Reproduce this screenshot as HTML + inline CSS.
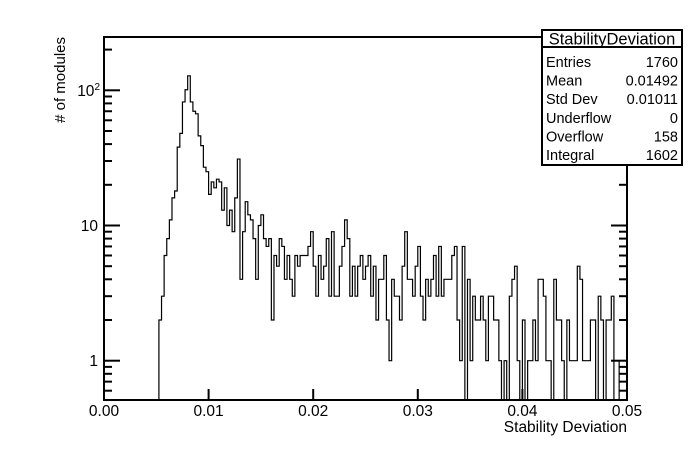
<!DOCTYPE html>
<html><head><meta charset="utf-8"><style>
html,body{margin:0;padding:0;background:#fff;}
svg{display:block;font-family:"Liberation Sans",sans-serif;}
</style></head><body>
<svg id="c" width="696" height="472" viewBox="0 0 696 472" xmlns="http://www.w3.org/2000/svg">
<rect x="0" y="0" width="696" height="472" fill="#fff"/>
<g id="hist"></g>
<g id="axes"></g>
<rect x="104" y="37" width="523" height="363" fill="none" stroke="#000" stroke-width="2"/>
<text x="627" y="432" font-size="15.5" text-anchor="end">Stability Deviation</text>
<text transform="translate(65,37) rotate(-90)" font-size="15" text-anchor="end"># of modules</text>
<g>
<rect x="542" y="30" width="140" height="135" fill="#fff" stroke="#000" stroke-width="2"/>
<line x1="542" y1="47" x2="682" y2="47" stroke="#000" stroke-width="2"/>
<text x="612" y="44.5" font-size="16.5" text-anchor="middle">StabilityDeviation</text>
<g font-size="14.5" id="stats"></g>
</g>
</svg>
<script>
const binLow = 0.0, binHigh = 0.05, nBins = 200;
const xTicks = [0.00, 0.01, 0.02, 0.03, 0.04, 0.05];
const xTickLabels = ["0.00","0.01","0.02","0.03","0.04","0.05"];
const yMajor = [1, 10, 100];
const yMajorLabels = ["1", "10", "10²"];
const firstBin = 21;
const counts = [
2,3,6,8,11,16,18,38,48,82,101,128,82,70,67,46,39,27,25,17,
21,19,22,21,13,19,10,13,9,16,31,4,9,15,12,11,8,4,10,12,
8,7,8,2,6,5,8,7,4,6,4,3,6,5,6,6,6,7,9,5,
3,6,4,5,8,3,9,3,3,5,7,11,8,3,5,3,5,6,4,5,
6,3,5,2,4,4,6,2,1,4,3,3,2,5,9,4,4,3,5,7,
3,2,4,3,4,6,3,7,3,4,4,4,6,7,2,1,7,0,4,1,
3,2,2,3,2,1,3,3,2,2,1,0,1,0,3,4,5,1,0,2,
0,1,1,2,1,4,4,3,1,1,0,4,2,2,1,0,2,1,1,1,
5,4,1,1,1,2,2,0,3,2,0,2,2,3,0,0,1,1,1
];
const statLabels = ["Entries","Mean","Std Dev","Underflow","Overflow","Integral"];
const statValues = ["1760","0.01492","0.01011","0","158","1602"];

const X0=104, X1=627, Y0=400, Y1=37, YONE=360.7, DEC=135.2;
const sx = v => X0 + (v-binLow)/(binHigh-binLow)*(X1-X0);
const sy = n => n>0 ? Math.min(Y0, YONE - DEC*Math.log10(n)) : Y0;
const NS="http://www.w3.org/2000/svg";
function mk(tag, attrs, parent){const e=document.createElementNS(NS,tag);for(const k in attrs)e.setAttribute(k,attrs[k]);parent.appendChild(e);return e;}

const bw=(binHigh-binLow)/nBins;
let d="M"+sx(binLow+firstBin*bw).toFixed(2)+","+Y0;
counts.forEach((n,i)=>{
  const xa=sx(binLow+(firstBin+i)*bw), xb=sx(binLow+(firstBin+i+1)*bw), y=sy(n);
  d+=" L"+xa.toFixed(2)+","+y.toFixed(2)+" L"+xb.toFixed(2)+","+y.toFixed(2);
});
d+=" L"+sx(binLow+(firstBin+counts.length)*bw).toFixed(2)+","+Y0;
const hg=document.getElementById('hist');
const p=mk('path',{d:d,fill:"none",stroke:"#000","stroke-width":"1.2"},hg);



const ax=document.getElementById('axes');
xTicks.forEach((v,i)=>{
  const x=sx(v);
  const t=mk('line',{x1:x,y1:Y0,x2:x,y2:Y0-11,stroke:"#000","stroke-width":"2"},ax);
  
  
  const l=mk('text',{x:x,y:416,"font-size":"15.5","text-anchor":"middle"},ax);
  l.textContent=xTickLabels[i];
  
  
});
for(let dec=0.1; dec<=100; dec*=10){
  for(let m=1;m<=9;m++){
    const v=dec*m; const y=YONE-DEC*Math.log10(v);
    if(y>Y0-1||y<Y1+1) continue;
    const major = m===1;
    const len = major?16:8;
    const a=mk('line',{x1:X0,y1:y,x2:X0+len,y2:y,stroke:"#000","stroke-width":"2"},ax);
    
    
    const b=mk('line',{x1:X1,y1:y,x2:X1-len,y2:y,stroke:"#000","stroke-width":"2"},ax);
    
    
  }
}
yMajor.forEach((v,i)=>{
  const y=YONE-DEC*Math.log10(v);
  const l=mk('text',{x:98,y:y+5.5,"font-size":"15.5","text-anchor":"end"},ax);
  
  
  if(yMajorLabels[i]==="10²"){
    l.textContent="10";
    const s=mk('tspan',{"font-size":"10",dy:"-6"},l);
    s.textContent="2";
    l.setAttribute('x',100);
  } else l.textContent=yMajorLabels[i];
});
const st=document.getElementById('stats');
statLabels.forEach((lab,i)=>{
  const y=67+i*18.6;
  const a=mk('text',{x:546,y:y},st);
  a.textContent=lab;
  
  
  const b=mk('text',{x:678,y:y,"text-anchor":"end"},st);
  b.textContent=statValues[i];
  
  
});
</script>
</body></html>
